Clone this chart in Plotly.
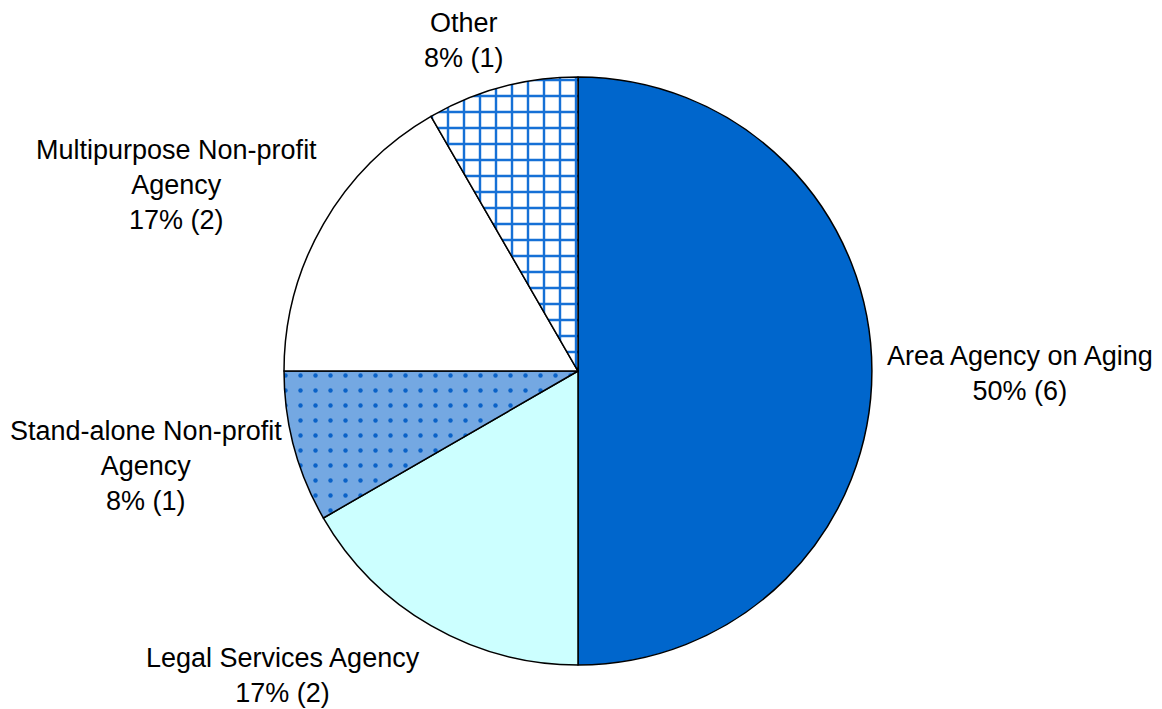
import plotly.graph_objects as go

labels = ["Area Agency on Aging", "Legal Services Agency", "Stand-alone Non-profit Agency",
          "Multipurpose Non-profit Agency", "Other"]
counts = [6, 2, 1, 2, 1]
label_text = [
    "Area Agency on Aging<br>50% (6)",
    "Legal Services Agency<br>17% (2)",
    "Stand-alone Non-profit<br>Agency<br>8% (1)",
    "Multipurpose Non-profit<br>Agency<br>17% (2)",
    "Other<br>8% (1)",
]
# label centre positions in reference pixels (x, y from top)
label_px = [(1020, 373), (283, 675), (146, 466), (176, 185), (464, 40)]

colors = ["#0066CC", "#CCFFFF", "#70A4DF", "#FFFFFF", "#FFFFFF"]
shapes = ["", "", ".", "", "+"]
fg = ["#0066CC", "#0066CC", "#0A62C8", "#0066CC", "#1570D6"]
bg = ["#0066CC", "#CCFFFF", "#74A8E2", "#FFFFFF", "#FFFFFF"]
sizes = [8, 8, 15, 16, 16]
solid = [0.3, 0.3, 0.07, 0.3, 0.28]

OFF = 8  # page body margin
W, H = 1162 - OFF, 709 - OFF
cx, cy, r = 578 - OFF, 371 - OFF, 294

fig = go.Figure(go.Pie(
    labels=labels, values=counts, sort=False, direction="clockwise", rotation=0,
    textinfo="none", hoverinfo="label+percent+value",
    marker=dict(colors=colors, line=dict(color="black", width=1.5),
                pattern=dict(shape=shapes, fgcolor=fg, bgcolor=bg, size=sizes,
                             solidity=solid, fillmode="replace")),
    domain=dict(x=[(cx - r) / W, (cx + r) / W], y=[(H - cy - r) / H, (H - cy + r) / H]),
    showlegend=False,
))

for txt, (px, py) in zip(label_text, label_px):
    fig.add_annotation(x=(px - OFF) / W, y=1 - (py - OFF) / H, xref="paper", yref="paper",
                       text=txt, showarrow=False, xanchor="center", yanchor="middle",
                       font=dict(family="Liberation Sans, Arial", size=27, color="black"))

fig.update_layout(width=W, height=H, margin=dict(l=0, r=0, t=0, b=0),
                  paper_bgcolor="white", plot_bgcolor="white")
fig.write_html("out.html")
